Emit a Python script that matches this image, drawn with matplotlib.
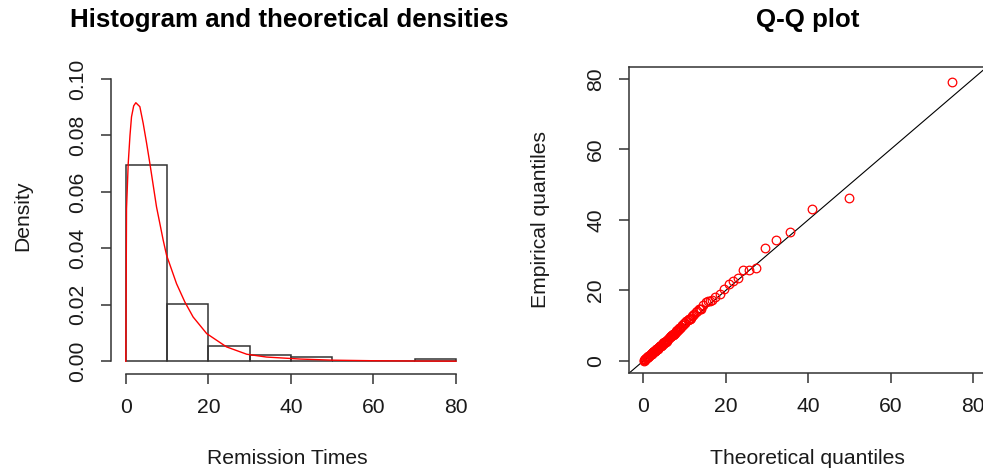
import numpy as np
import matplotlib
matplotlib.use("Agg")
import matplotlib.pyplot as plt

plt.rcParams['font.family'] = ['Liberation Sans', 'DejaVu Sans']

# Remission times (empirical data, sorted)
remission = [
    0.08, 0.20, 0.40, 0.50, 0.51, 0.81, 0.90, 1.05, 1.19, 1.26,
    1.35, 1.40, 1.46, 1.76, 2.02, 2.02, 2.07, 2.09, 2.23, 2.26,
    2.46, 2.54, 2.62, 2.64, 2.69, 2.69, 2.75, 2.83, 2.87, 3.02,
    3.25, 3.31, 3.36, 3.36, 3.48, 3.52, 3.57, 3.64, 3.70, 3.82,
    3.88, 4.18, 4.23, 4.26, 4.33, 4.34, 4.40, 4.50, 4.51, 4.87,
    4.98, 5.06, 5.09, 5.17, 5.32, 5.32, 5.34, 5.41, 5.41, 5.49,
    5.62, 5.71, 5.85, 6.25, 6.54, 6.76, 6.93, 6.94, 6.97, 7.09,
    7.26, 7.28, 7.32, 7.39, 7.59, 7.62, 7.63, 7.66, 7.87, 7.93,
    8.26, 8.37, 8.53, 8.65, 8.66, 9.02, 9.22, 9.47, 9.74, 10.06,
    10.34, 10.66, 10.75, 11.25, 11.64, 11.79, 11.98, 12.02, 12.03, 12.07,
    12.63, 13.11, 13.29, 13.80, 14.24, 14.76, 14.77, 14.83, 15.96, 16.62,
    17.12, 17.14, 17.36, 18.10, 19.13, 20.28, 21.73, 22.69, 23.63, 25.74,
    25.82, 26.31, 32.15, 34.26, 36.66, 43.01, 46.12, 79.05,
]

# Theoretical quantiles
theoretical = [
    0.06, 0.16, 0.30, 0.41, 0.50, 0.68, 0.80, 0.93, 1.05, 1.14,
    1.23, 1.31, 1.39, 1.60, 1.78, 1.86, 1.94, 2.01, 2.10, 2.18,
    2.30, 2.39, 2.47, 2.54, 2.60, 2.66, 2.72, 2.79, 2.86, 2.96,
    3.08, 3.17, 3.25, 3.32, 3.40, 3.47, 3.54, 3.61, 3.68, 3.77,
    3.86, 3.98, 4.08, 4.15, 4.22, 4.28, 4.35, 4.43, 4.50, 4.66,
    4.79, 4.88, 4.95, 5.03, 5.12, 5.19, 5.26, 5.32, 5.38, 5.45,
    5.54, 5.63, 5.74, 5.98, 6.22, 6.40, 6.55, 6.64, 6.73, 6.83,
    6.94, 7.03, 7.11, 7.19, 7.30, 7.38, 7.45, 7.52, 7.63, 7.73,
    7.90, 8.03, 8.17, 8.29, 8.39, 8.58, 8.76, 8.97, 9.19, 9.43,
    9.67, 9.92, 10.15, 10.45, 10.75, 10.98, 11.16, 11.30, 11.42, 11.55,
    11.82, 12.12, 12.40, 12.75, 13.12, 13.45, 13.75, 14.05, 14.55, 15.10,
    15.70, 16.20, 16.75, 17.50, 18.50, 19.70, 20.70, 21.80, 22.90, 24.20,
    25.70, 27.40, 29.60, 32.30, 35.60, 40.90, 49.90, 75.00,
]

# Fitted density curve
dens_x = [0, 0.05, 0.16, 0.57, 1.0, 1.37, 1.9, 2.42, 3.39, 4.2, 5.0, 5.82,
          7.43, 9.05, 9.86, 12.28, 14.3, 16.3, 19.6, 24.4, 29.3, 34.1,
          42.2, 50, 60, 70, 80]
dens_y = [0, 0.0185, 0.054, 0.070, 0.080, 0.0866, 0.0905, 0.0916, 0.0902,
          0.0843, 0.0775, 0.0701, 0.0547, 0.0429, 0.0376, 0.0275, 0.0210,
          0.0157, 0.0098, 0.0051, 0.0025, 0.0015, 0.0008, 0.0004, 0.0002,
          0.0001, 0.00005]

bin_edges = [0, 10, 20, 30, 40, 50, 60, 70, 80]
x_ticks = [0, 20, 40, 60, 80]
dens_ticks = [0.00, 0.02, 0.04, 0.06, 0.08, 0.10]
dens_tick_labels = ["0.00", "0.02", "0.04", "0.06", "0.08", "0.10"]
qq_ticks = [0, 20, 40, 60, 80]

W, H = 983, 470
fig = plt.figure(figsize=(W / 100, H / 100), dpi=100)

AX_COL = '#333333'
TXT_COL = '#1a1a1a'
FS = 15.2
TFS = 18.6

def px_rect(x0, y0, x1, y1):
    return [x0 / W, 1 - y1 / H, (x1 - x0) / W, (y1 - y0) / H]

# ---- Left: histogram ----
ax1 = fig.add_axes(px_rect(111.0, 66.3, 470.4, 374.0))
ax1.hist(remission, bins=bin_edges, density=True, facecolor='none',
         edgecolor=AX_COL, linewidth=1.1)
ax1.plot(dens_x, dens_y, color='red', linewidth=1.0)
ax1.set_xlim(-3.6, 83.5)
ax1.set_ylim(-0.0045, 0.1045)
for s in ['top', 'right']:
    ax1.spines[s].set_visible(False)
ax1.spines['left'].set_bounds(0, 0.10)
ax1.spines['bottom'].set_bounds(0, 80)
for s in ['left', 'bottom']:
    ax1.spines[s].set_color(AX_COL)
    ax1.spines[s].set_linewidth(1.1)
ax1.set_xticks(x_ticks)
ax1.set_yticks(dens_ticks)
ax1.set_yticklabels(dens_tick_labels)
ax1.tick_params(direction='out', length=7, width=1.1, color=AX_COL,
                labelsize=FS, labelcolor=TXT_COL, pad=10.3)
ax1.tick_params(axis='y', labelrotation=90)
for lab in ax1.get_yticklabels():
    lab.set_va('center')

# ---- Right: Q-Q plot ----
ax2 = fig.add_axes(px_rect(629.3, 67.3, 986.5, 373.3))
ax2.set_xlim(-3.4, 83.3)
ax2.set_ylim(-3.5, 83.3)
ax2.axline((0, 0), slope=1, color='black', linewidth=0.8)
ax2.plot(theoretical, remission, linestyle='none', marker='o',
         markerfacecolor='none', markeredgecolor='red', markersize=6.2,
         markeredgewidth=0.9)
for s in ax2.spines.values():
    s.set_color(AX_COL)
    s.set_linewidth(1.1)
ax2.set_xticks(qq_ticks)
ax2.set_yticks(qq_ticks)
ax2.tick_params(direction='out', length=7, width=1.1, color=AX_COL,
                labelsize=FS, labelcolor=TXT_COL, pad=10.3)
ax2.tick_params(axis='y', labelrotation=90)
for lab in ax2.get_yticklabels():
    lab.set_va('center')

# ---- Titles and axis labels ----
fig.text(289 / W, 1 - 20 / H, "Histogram and theoretical densities",
         ha='center', va='center', fontsize=TFS, fontweight='bold', color='black')
fig.text(808 / W, 1 - 20 / H, "Q-Q plot",
         ha='center', va='center', fontsize=TFS, fontweight='bold', color='black')
fig.text(287 / W, 1 - 458 / H, "Remission Times", ha='center', va='center',
         fontsize=FS, color=TXT_COL)
fig.text(807 / W, 1 - 458 / H, "Theoretical quantiles", ha='center', va='center',
         fontsize=FS, color=TXT_COL)
fig.text(23 / W, 1 - 216 / H, "Density", ha='center', va='center',
         rotation=90, fontsize=FS, color=TXT_COL)
fig.text(540 / W, 1 - 220 / H, "Empirical quantiles", ha='center', va='center',
         rotation=90, fontsize=FS, color=TXT_COL)

fig.savefig("out.png", dpi=100, facecolor='white')
